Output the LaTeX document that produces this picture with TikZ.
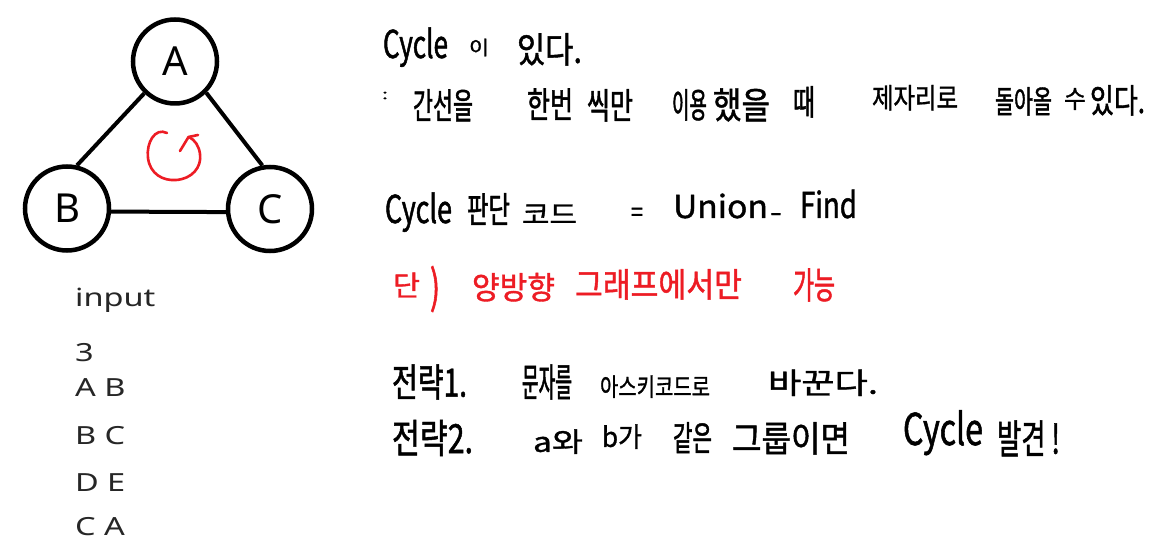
\documentclass[tikz,border=0pt]{standalone}
\usepackage{fontspec}
\usepackage{graphicx}
\newfontfamily\kr[FakeBold=1.2]{Noto Sans CJK KR}
\newfontfamily\lblfont{Noto Sans}
\newfontfamily\inpfont[FakeStretch=1.3]{Noto Sans}
\definecolor{paintred}{HTML}{ED1C24}
\newlength\hkw
% Korean word #3: width #1, ink height #2 (stretch computed per word)
\newcommand\hk[3]{%
  \settowidth\hkw{\fontsize{10}{10}\kr #3}%
  \pgfmathsetmacro\hkf{(#1/\hkw)/(#2/9.2)}%
  \pgfmathsetmacro\hks{#2/9.2}%
  \scalebox{\hks}{\fontsize{10}{10}\kr\addfontfeatures{FakeStretch=\hkf}\smash{#3}\rule[-0.6pt]{0pt}{9.2pt}}}
% Latin word #3: width #1, cap height #2
\newcommand\hw[3]{%
  \settowidth\hkw{\fontsize{10}{10}\kr #3}%
  \pgfmathsetmacro\hkf{(#1/\hkw)/(#2/7.3)}%
  \pgfmathsetmacro\hks{#2/7.3}%
  \scalebox{\hks}{\fontsize{10}{10}\kr\addfontfeatures{FakeStretch=\hkf}\smash{#3}\rule{0pt}{7.3pt}}}
\tikzset{
  vertex/.style={circle, draw, line width=4.5pt, minimum size=84pt, inner sep=0pt,
    font=\lblfont\fontsize{40}{40}\selectfont},
  edge/.style={line width=4pt},
  word/.style={anchor=west, inner sep=0pt, outer sep=0pt},
  redword/.style={word, text=paintred},
  inp/.style={anchor=base west, inner sep=0pt, font=\inpfont\fontsize{25}{25}\selectfont, text=black!85},
  cyc/.style={draw=paintred, line width=2.6pt, line cap=round, line join=round}
}
\begin{document}
\begin{tikzpicture}[x=1pt, y=-1pt]
\useasboundingbox (0,0) rectangle (1152,545);
\fill[white] (0,0) rectangle (1152,545);

% graph
\node[vertex] (A) at (175,61.5) {A};
\node[vertex] (B) at (67,208.5) {B};
\node[vertex] (C) at (270,209) {C};
\draw[edge] (A.226) -- (B.77);
\draw[edge] (A.315) -- (C.100);
\draw[edge] (B.-4) -- (C.184);

% red cycle arrow
\draw[cyc] (167,133) .. controls (155,127) and (146,143) .. (148,158)
  .. controls (150,174) and (163,181) .. (176,180)
  .. controls (192,179) and (202,167) .. (200,154)
  .. controls (199,146) and (195,140) .. (189,137);
\draw[cyc] (180,151) -- (188.5,137) -- (198,135);

% input
\node[inp] (in0) at (75,307) {input};
\node[inp] (in1) at (75,362) {3};
\node[inp] (in2) at (75,397) {A\,\,B};
\node[inp] (in3) at (75,444) {B\,\,C};
\node[inp] (in4) at (75,491) {D\,\,E};
\node[inp] (in5) at (75,535) {C\,\,A};

% line 1
\node[word] (l1a) at (383,44) {\hw{65}{28}{Cycle}};
\node[word] (l1b) at (469,47) {\hk{20}{18}{이}};
\node[word] (l1c) at (517,48.5) {\hk{65}{33}{있다.}};

% line 2
\node[word] (l2a) at (382,93.5) {\hk{6}{13}{:}};
\node[word] (l2b) at (413,104.5) {\hk{60}{33}{간선을}};
\node[word] (l2c) at (527,103.5) {\hk{46}{33}{한번}};
\node[word] (l2d) at (587,104.5) {\hk{46}{33}{씩만}};
\node[word] (l2e) at (672,104) {\hk{35}{32}{이용}};
\node[word] (l2f) at (713,104) {\hk{57}{34}{했을}};
\node[word] (l2g) at (793,101) {\hk{22}{32}{때}};
\node[word] (l2h) at (872,97) {\hk{86}{26}{제자리로}};
\node[word] (l2i) at (995,100.5) {\hk{57}{29}{돌아올}};
\node[word] (l2j) at (1064,98) {\hk{22}{23}{수}};
\node[word] (l2k) at (1090,99.5) {\hk{55}{31}{있다.}};

% line 3
\node[word] (l3a) at (385,209) {\hw{67}{28}{Cycle}};
\node[word] (l3b) at (467,208.5) {\hk{43}{33}{판단}};
\node[word] (l3c) at (522,213.5) {\hk{55}{24}{코드}};
\node[word] (l3d) at (631,211) {\hk{12}{24}{=}};
\node[word] (l3e) at (673,206.5) {\hw{95}{23}{Union}};
\node[word] (l3f) at (770,211) {\hk{12}{24}{-}};
\node[word] (l3g) at (800,205) {\hw{57}{26}{Find}};

% line 4 (red)
\node[redword] (l4a) at (393,284.5) {\hk{27}{26}{단}};
\node[redword] (l4b) at (430,285) {\hk{10}{42}{)}};
\node[redword] (l4c) at (472,286.5) {\hk{83}{29}{양방향}};
\node[redword] (l4d) at (575,283.5) {\hk{167}{31}{그래프에서만}};
\node[redword] (l4e) at (793,284) {\hk{42}{34}{가능}};

% line 5
\node[word] (l5a) at (392,381) {\hk{75}{36}{전략1.}};
\node[word] (l5b) at (522,381) {\hk{50}{36}{문자를}};
\node[word] (l5c) at (600,386) {\hk{110}{23}{아스키코드로}};
\node[word] (l5d) at (768,382) {\hk{110}{27}{바꾼다.}};

% line 6
\node[word] (l6a) at (392,437) {\hk{81}{37}{전략2.}};
\node[word] (l6b) at (533,441) {\hk{50}{25}{a와}};
\node[word] (l6c) at (602,436) {\hk{40}{25}{b가}};
\node[word] (l6d) at (673,437) {\hk{39}{32}{같은}};
\node[word] (l6e) at (732,437.5) {\hk{118}{33}{그룹이면}};
\node[word] (l6f) at (903,429) {\hw{80}{32}{Cycle}};
\node[word] (l6g) at (997,437.5) {\hk{63}{37}{발견 !}};
\end{tikzpicture}
\end{document}
